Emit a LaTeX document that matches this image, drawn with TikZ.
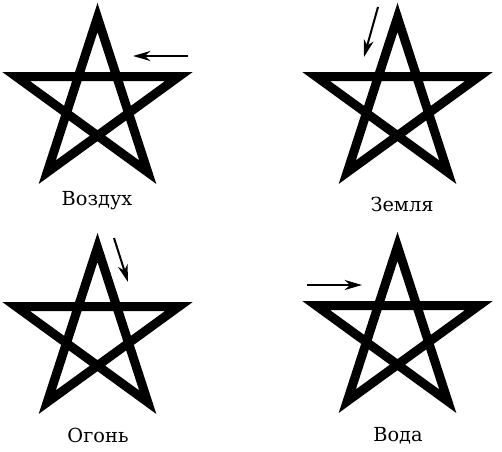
\documentclass[tikz,border=0pt]{standalone}
\usepackage{fontspec}
\newfontfamily\labelfont{DejaVu Serif}
\usetikzlibrary{arrows.meta,calc}

\begin{document}
\begin{tikzpicture}[x=0.75pt,y=0.75pt,
        pentline/.style={line width=6.75pt,line join=miter,miter limit=10},
        elem/.style={font=\labelfont\fontsize{14.5}{17}\selectfont,anchor=base,inner sep=0pt},
        move/.style={line width=1.5pt,-{Stealth[length=13pt,width=7.5pt,inset=4pt]}}]
   \useasboundingbox (0,0) rectangle (502,451);

   % centres of the four stars
   \coordinate (c1) at (97.5,348);
   \coordinate (c2) at (397.5,348);
   \coordinate (c3) at (97.5,118);
   \coordinate (c4) at (397.5,119);

   \foreach \c in {c1,c2,c3,c4}
      \draw[pentline] ($(\c)+(90:85.5)$) -- ($(\c)+(234:85.5)$) -- ($(\c)+(18:85.5)$)
         -- ($(\c)+(162:85.5)$) -- ($(\c)+(306:85.5)$) -- cycle;

   \node[elem] (air) at (97,246) {Воздух};
   \node[elem] (earth) at (402,240) {Земля};
   \node[elem] (fire) at (98,9) {Огонь};
   \node[elem] (water) at (398,10) {Вода};

   % direction of the first stroke
   \coordinate (a1) at (188,395);
   \coordinate (b1) at (133,395);
   \draw[move] (a1) -- (b1);

   \coordinate (a2) at (378,444);
   \coordinate (b2) at (364,394);
   \draw[move] (a2) -- (b2);

   \coordinate (a3) at (114,213);
   \coordinate (b3) at (128,169);
   \draw[move] (a3) -- (b3);

   \coordinate (a4) at (307,166);
   \coordinate (b4) at (362,166);
   \draw[move] (a4) -- (b4);

\end{tikzpicture}
\end{document}
